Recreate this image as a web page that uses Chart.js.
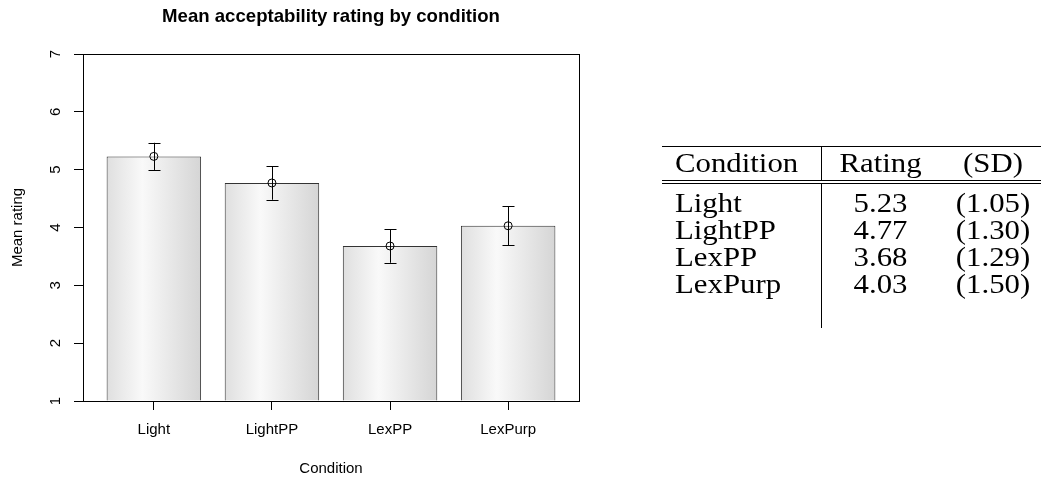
<!DOCTYPE html>
<html>
<head>
<meta charset="utf-8">
<script src="https://cdn.jsdelivr.net/npm/chart.js@4.4.1/dist/chart.umd.min.js"></script>
<style>
  html, body { margin: 0; padding: 0; background: #ffffff; }
  #wrap { position: relative; width: 1041px; height: 477px; }
  canvas { display: block; }
</style>
</head>
<body>
<div id="wrap"><canvas id="c" width="1041" height="477"></canvas></div>
<script>
// ---- data ----
const categories = ['Light', 'LightPP', 'LexPP', 'LexPurp'];
const means = [5.23, 4.77, 3.68, 4.03];
const ciHalf = [0.235, 0.29, 0.29, 0.335];
const sds = [1.05, 1.30, 1.29, 1.50];
const yTicks = [1, 2, 3, 4, 5, 6, 7];
const tableHeader = ['Condition', 'Rating', '(SD)'];
const chartTitle = 'Mean acceptability rating by condition';
const xTitle = 'Condition';
const yTitle = 'Mean rating';

// barplot midpoints (width 1, space 0.25)
const barPos = categories.map((_, i) => 0.75 + 1.25 * i);

const SANS = "'Liberation Sans', Arial, Helvetica, sans-serif";
const SERIF = "'Liberation Serif', 'Times New Roman', serif";
Chart.defaults.color = '#000000';
Chart.defaults.font.family = SANS;

function barGradient(ctx) {
  const chart = ctx.chart;
  const xs = chart.scales && chart.scales.x;
  if (!xs || !ctx.parsed || ctx.parsed.x === undefined) return '#eeeeee';
  const c = xs.getPixelForValue(ctx.parsed.x);
  const w = (xs.getPixelForValue(1.25) - xs.getPixelForValue(0)) * 0.8;
  if (!isFinite(c) || !isFinite(w) || w <= 0) return '#eeeeee';
  const g = chart.ctx.createLinearGradient(c - w / 2, 0, c + w / 2, 0);
  g.addColorStop(0, '#dfdfdf');
  g.addColorStop(0.38, '#f9f9f9');
  g.addColorStop(1, '#d5d5d5');
  return g;
}

const framePlugin = {
  id: 'frame',
  afterDatasetsDraw(chart) {
    const { ctx, chartArea: a, scales } = chart;
    ctx.save();
    // error bars
    ctx.strokeStyle = '#000';
    ctx.lineWidth = 1;
    means.forEach((m, i) => {
      const x = Math.round(scales.x.getPixelForValue(barPos[i])) + 0.5;
      const yt = scales.y.getPixelForValue(m + ciHalf[i]);
      const yb = scales.y.getPixelForValue(m - ciHalf[i]);
      ctx.beginPath();
      ctx.moveTo(x, yt); ctx.lineTo(x, yb);
      ctx.moveTo(x - 6, Math.round(yt) + 0.5); ctx.lineTo(x + 6, Math.round(yt) + 0.5);
      ctx.moveTo(x - 6, Math.round(yb) + 0.5); ctx.lineTo(x + 6, Math.round(yb) + 0.5);
      ctx.stroke();
    });
    // plot box
    ctx.strokeStyle = '#000';
    ctx.lineWidth = 1;
    ctx.strokeRect(Math.round(a.left) + 0.5, Math.round(a.top) + 0.5,
                   Math.round(a.right - a.left), Math.round(a.bottom - a.top));
    ctx.restore();
  },
  afterDraw(chart) {
    const { ctx, chartArea: a, scales } = chart;
    ctx.save();
    // rotated y tick labels (R style)
    ctx.fillStyle = '#000';
    ctx.font = '15px ' + SANS;
    ctx.textAlign = 'center';
    ctx.textBaseline = 'middle';
    scales.y.ticks.forEach(t => {
      const y = scales.y.getPixelForValue(t.value);
      ctx.save();
      ctx.translate(a.left - 27, y);
      ctx.rotate(-Math.PI / 2);
      ctx.fillText(String(t.value), 0, 0);
      ctx.restore();
    });

    // ---- table ----
    ctx.fillStyle = '#000';
    const sx = 1.1;
    function txt(s, x, y, align) {
      ctx.save();
      ctx.translate(x, y);
      ctx.scale(sx, 1);
      ctx.textAlign = align;
      ctx.textBaseline = 'alphabetic';
      ctx.font = '28px ' + SERIF;
      ctx.fillText(s, 0, 0);
      ctx.restore();
    }
    const colL = 675, colC = 880.5, colR = 993;
    txt(tableHeader[0], colL, 172, 'left');
    txt(tableHeader[1], colC, 172, 'center');
    txt(tableHeader[2], colR, 172, 'center');
    const rowY = [212, 239, 266, 293];
    categories.forEach((c, i) => {
      txt(c, colL, rowY[i], 'left');
      txt(means[i].toFixed(2), colC, rowY[i], 'center');
      txt('(' + sds[i].toFixed(2) + ')', colR, rowY[i], 'center');
    });
    // rules
    ctx.fillRect(662, 146, 379, 1);
    ctx.fillRect(662, 180, 379, 1);
    ctx.fillRect(662, 183, 379, 1);
    ctx.fillRect(821, 146, 1, 35);
    ctx.fillRect(821, 184, 1, 144);
    ctx.restore();
  }
};

new Chart(document.getElementById('c'), {
  data: {
    datasets: [
      {
        type: 'bar',
        data: categories.map((c, i) => ({ x: barPos[i], y: means[i] })),
        base: 1,
        backgroundColor: barGradient,
        borderColor: '#333333',
        borderWidth: 1,
        borderSkipped: 'start',
        barPercentage: 0.8,
        categoryPercentage: 1.0,
        order: 2
      },
      {
        type: 'scatter',
        data: categories.map((c, i) => ({ x: barPos[i], y: means[i] })),
        pointStyle: 'circle',
        pointRadius: 4,
        pointBorderWidth: 1,
        pointBackgroundColor: 'rgba(0,0,0,0)',
        pointBorderColor: '#000',
        showLine: false,
        order: 1
      }
    ]
  },
  options: {
    responsive: false,
    animation: false,
    devicePixelRatio: 1,
    layout: { padding: { left: 0, right: 462, top: 0, bottom: 0 } },
    plugins: {
      legend: { display: false },
      tooltip: { enabled: false },
      title: {
        display: true,
        text: chartTitle,
        color: '#000',
        fullSize: false,
        font: { family: SANS, size: 18.6, weight: 'bold', lineHeight: 1.2 },
        padding: { top: 5.8, bottom: 25.9 }
      }
    },
    scales: {
      x: {
        type: 'linear',
        min: 0,
        max: 5.25,
        offset: false,
        afterFit(scale) { scale.height = 76; },
        afterBuildTicks(scale) {
          scale.ticks = barPos.map(v => ({ value: v }));
        },
        ticks: {
          autoSkip: false,
          maxRotation: 0,
          minRotation: 0,
          padding: 11,
          font: { family: SANS, size: 15 },
          color: '#000',
          callback: (v, i) => categories[i]
        },
        grid: {
          display: true,
          offset: false,
          drawOnChartArea: false,
          drawTicks: true,
          tickLength: 9,
          color: '#000',
          lineWidth: 1
        },
        border: { display: false },
        title: {
          display: true,
          text: xTitle,
          color: '#000',
          font: { family: SANS, size: 15, lineHeight: 1 },
          padding: { top: 0, bottom: 0.5 }
        }
      },
      y: {
        type: 'linear',
        min: 1,
        max: 7,
        afterFit(scale) { scale.width = 83; },
        afterBuildTicks(scale) {
          scale.ticks = yTicks.map(v => ({ value: v }));
        },
        ticks: { display: false },
        grid: {
          display: true,
          offset: false,
          drawOnChartArea: false,
          drawTicks: true,
          tickLength: 9,
          color: '#000',
          lineWidth: 1
        },
        border: { display: false },
        title: {
          display: true,
          text: yTitle,
          color: '#000',
          font: { family: SANS, size: 15, lineHeight: 1.2 },
          padding: { top: 9, bottom: 0 }
        }
      }
    }
  },
  plugins: [framePlugin]
});
</script>
</body>
</html>
